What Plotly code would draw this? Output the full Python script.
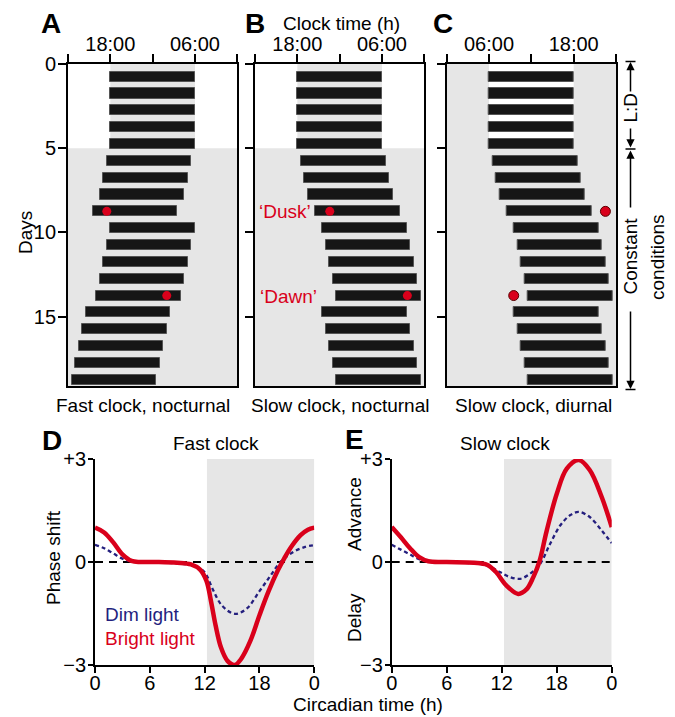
import plotly.graph_objects as go

W, H = 675, 717
FONT = "Liberation Sans, Arial, sans-serif"
RED = "#d9001b"
NAVY = "#241f7e"
GRAY = "#e6e6e6"

# ---------------- data ----------------
days = list(range(19))
duration = 12  # hours of activity per day
onset_A = [18, 18, 18, 18, 18, 17.5, 17, 16.5, 15.5, 18, 17.5, 17, 16.5, 16, 14.5, 14, 13.5, 13, 12.5]
onset_B = [18, 18, 18, 18, 18, 18.5, 19, 19.5, 20.5, 21.5, 22, 22.5, 23, 23.5, 21.5, 22, 22.5, 23, 23.5]
onset_C = [6, 6, 6, 6, 6, 6.5, 7, 7.5, 8.5, 9.5, 10, 10.5, 11, 11.5, 9.5, 10, 10.5, 11, 11.5]
pulse_rows = [8, 13]
pulse_A = [17.5, 26.0]
pulse_B = [22.6, 33.6]
pulse_C = [22.5, 9.5]

clock_ticks_night = [12, 18, 24, 30, 36]
clock_text_night = ["", "18:00", "", "06:00", ""]
clock_ticks_day = [0, 6, 12, 18, 24]
clock_text_day = ["", "06:00", "", "18:00", ""]
day_ticks = [0, 5, 10, 15]

ct_D_bright = [0, 1, 2, 3, 4, 5, 7, 9, 10.5, 11.5, 12.2, 12.7, 13.2, 13.8, 14.5, 15.3, 16, 17, 18, 19, 20, 20.7, 21.5, 22.5, 23.3, 24]
D_bright = [1.0, 0.86, 0.57, 0.22, 0.03, 0.0, 0.0, -0.02, -0.07, -0.22, -0.55, -1.15, -1.85, -2.5, -2.88, -3.0, -2.82, -2.3, -1.55, -0.85, -0.25, 0.1, 0.45, 0.78, 0.94, 1.0]
ct_D_dim = [0, 1, 2, 3, 4, 6, 9, 11, 12, 12.9, 13.9, 15.3, 16.6, 18, 19.2, 20.3, 21.7, 23, 24]
D_dim = [0.5, 0.4, 0.25, 0.1, 0.02, -0.02, -0.04, -0.12, -0.3, -0.8, -1.27, -1.51, -1.36, -0.85, -0.4, 0.0, 0.29, 0.44, 0.49]
ct_E_bright = [0, 1, 2, 3, 4, 6, 9, 10.4, 11.4, 12.5, 13.8, 14.7, 15.45, 16.1, 16.9, 18, 19.1, 20.4, 21.6, 22.9, 24]
E_bright = [1.02, 0.72, 0.4, 0.14, 0.02, 0.0, -0.02, -0.08, -0.3, -0.68, -0.93, -0.8, -0.44, 0.0, 0.9, 1.98, 2.72, 2.97, 2.68, 1.9, 1.02]
ct_E_dim = [0, 1, 2, 3, 4, 6, 9, 10.4, 11.8, 12.9, 14, 15.1, 16.2, 17.3, 18.4, 19.45, 20.4, 21.6, 22.9, 24]
E_dim = [0.5, 0.36, 0.22, 0.08, 0.02, -0.02, -0.04, -0.1, -0.29, -0.44, -0.49, -0.34, -0.05, 0.54, 1.07, 1.36, 1.46, 1.31, 0.92, 0.55]
ct_ticks = [0, 6, 12, 18, 24]
ct_text = ["0", "6", "12", "18", "0"]

DAY_MAX = 19.12
ROW_OFF = 0.75
BAR_H = 0.6


def px(x):
    return x / W


def py(y):
    return 1 - y / H


fig = go.Figure()


def add_actogram(onsets, pulses, n, dot_line):
    xa = "x" if n == 1 else f"x{n}"
    ya = "y" if n == 1 else f"y{n}"
    fig.add_trace(go.Bar(
        orientation="h", y=[d + ROW_OFF for d in days], x=[duration] * len(days),
        base=onsets, width=BAR_H, xaxis=xa, yaxis=ya,
        marker=dict(color="#161616", line=dict(color="#555555", width=1)),
        showlegend=False, hoverinfo="skip"))
    fig.add_trace(go.Scatter(
        x=pulses, y=[r + ROW_OFF for r in pulse_rows], mode="markers", xaxis=xa, yaxis=ya,
        marker=dict(color=RED, size=9 if dot_line == 0 else 10,
                    line=dict(color="#5a0000", width=dot_line)),
        showlegend=False, hoverinfo="skip"))


add_actogram(onset_A, pulse_A, 1, 0)
add_actogram(onset_B, pulse_B, 2, 0)
add_actogram(onset_C, pulse_C, 3, 1)

# dim curves first so the bright curves sit on top
for xs, ys, n, col, wd, dash in [
    (ct_D_dim, D_dim, 4, NAVY, 2.3, "4px,3px"),
    (ct_D_bright, D_bright, 4, RED, 4.5, "solid"),
    (ct_E_dim, E_dim, 5, NAVY, 2.3, "4px,3px"),
    (ct_E_bright, E_bright, 5, RED, 4.5, "solid"),
]:
    fig.add_trace(go.Scatter(x=xs, y=ys, mode="lines", xaxis=f"x{n}", yaxis=f"y{n}",
                             line=dict(color=col, width=wd, dash=dash, shape="spline", smoothing=1.0),
                             showlegend=False, hoverinfo="skip"))

shapes = []
for n in (1, 2):
    xr = "x" if n == 1 else f"x{n}"
    yr = "y" if n == 1 else f"y{n}"
    shapes.append(dict(type="rect", xref=xr, yref=yr, x0=18, x1=30, y0=0, y1=5,
                       fillcolor=GRAY, line=dict(width=0), layer="below"))
    shapes.append(dict(type="rect", xref=xr, yref=yr, x0=12, x1=36, y0=5, y1=DAY_MAX,
                       fillcolor=GRAY, line=dict(width=0), layer="below"))
shapes.append(dict(type="rect", xref="x3", yref="y3", x0=0, x1=24, y0=0, y1=DAY_MAX,
                   fillcolor=GRAY, line=dict(width=0), layer="below"))
shapes.append(dict(type="rect", xref="x3", yref="y3", x0=6, x1=18, y0=0, y1=5,
                   fillcolor="white", line=dict(width=0), layer="below"))
for n in (4, 5):
    shapes.append(dict(type="rect", xref=f"x{n}", yref=f"y{n}", x0=12.25, x1=24, y0=-3, y1=3,
                       fillcolor=GRAY, line=dict(width=0), layer="below"))
    shapes.append(dict(type="line", xref=f"x{n}", yref=f"y{n}", x0=0, x1=24, y0=0, y1=0,
                       line=dict(color="black", width=2, dash="8px,6px"), layer="below"))

# right-side bracket
LX = 630.5
for yy in (61.5, 149, 389.5):
    shapes.append(dict(type="line", xref="paper", yref="paper", x0=px(LX - 5), x1=px(LX + 5),
                       y0=py(yy), y1=py(yy), line=dict(color="black", width=1.5)))

ann = []
for head, tail in [(62, 93), (147.5, 127), (150.5, 209), (389, 310)]:
    ann.append(dict(xref="paper", yref="paper", x=px(LX), y=py(head), ax=0, ay=tail - head,
                    text="", showarrow=True, arrowhead=2, arrowsize=1.1, arrowwidth=1.5,
                    arrowcolor="black", standoff=0, startstandoff=0))


def txt(s, x, y, size=19, color="black", bold=False, angle=0, xanchor="center"):
    ann.append(dict(xref="paper", yref="paper", x=px(x), y=py(y), text=f"<b>{s}</b>" if bold else s,
                    showarrow=False, textangle=angle, xanchor=xanchor, yanchor="middle",
                    font=dict(family=FONT, size=size, color=color)))


txt("L:D", LX, 108, angle=-90)
txt("Constant", LX - 1, 256, angle=-90)
txt("conditions", 657, 257, angle=-90)

for s, x in [("A", 51), ("B", 255), ("C", 443)]:
    txt(s, x, 23, size=28, bold=True)
txt("D", 52, 440, size=28, bold=True)
txt("E", 354, 439, size=28, bold=True)

txt("Clock time (h)", 341, 24)
txt("Fast clock, nocturnal", 143, 405)
txt("Slow clock, nocturnal", 340, 405)
txt("Slow clock, diurnal", 533, 405)
txt("Days", 25, 233, angle=-90)
txt("\u2018Dusk\u2019", 285, 211, color=RED)
txt("\u2018Dawn\u2019", 288, 296, color=RED)

txt("Fast clock", 216, 443)
txt("Slow clock", 505, 443)
txt("Phase shift", 53, 558, angle=-90)
txt("Advance", 354, 514, angle=-90)
txt("Delay", 354, 618, angle=-90)
txt("Dim light", 103, 614, color=NAVY, xanchor="left")
txt("Bright light", 103, 638, color=RED, xanchor="left")
txt("Circadian time (h)", 368, 704)

common_axis = dict(showline=True, linecolor="black", linewidth=1.8, ticks="outside",
                   tickcolor="black", tickwidth=1.5, showgrid=False, zeroline=False,
                   automargin=False,
                   tickfont=dict(family=FONT, size=20, color="black"), fixedrange=True)

layout = dict(width=W, height=H, margin=dict(l=0, r=0, t=0, b=0, autoexpand=False),
              paper_bgcolor="white", plot_bgcolor="white", showlegend=False,
              shapes=shapes, annotations=ann, bargap=0)

act_dom_y = [py(386), py(64)]
act_dom_x = {1: [px(68), px(237.3)], 2: [px(255), px(424.3)], 3: [px(446.7), px(616)]}
for n in (1, 2, 3):
    xk = "xaxis" if n == 1 else f"xaxis{n}"
    yk = "yaxis" if n == 1 else f"yaxis{n}"
    yanchor = "y" if n == 1 else f"y{n}"
    xanchor = "x" if n == 1 else f"x{n}"
    if n == 3:
        xr, tv, tt = [0, 24], clock_ticks_day, clock_text_day
    else:
        xr, tv, tt = [12, 36], clock_ticks_night, clock_text_night
    layout[xk] = dict(common_axis, domain=act_dom_x[n], range=xr, side="top", mirror=True,
                      tickvals=tv, ticktext=tt, ticklen=8, anchor=yanchor, ticklabelstandoff=-5)
    layout[yk] = dict(common_axis, domain=act_dom_y, range=[DAY_MAX, 0], mirror=True,
                      tickvals=day_ticks, ticktext=[str(v) for v in day_ticks] if n == 1 else [""] * 4,
                      ticklen=8, anchor=xanchor, ticklabelstandoff=-2)

prc_dom_y = [py(665), py(459)]
prc_dom_x = {4: [px(95), px(314.3)], 5: [px(391.7), px(611.7)]}
for n in (4, 5):
    layout[f"xaxis{n}"] = dict(common_axis, domain=prc_dom_x[n], range=[0, 24], tickvals=ct_ticks,
                               ticktext=ct_text, ticklen=6, anchor=f"y{n}", ticklabelstandoff=-7)
    layout[f"yaxis{n}"] = dict(common_axis, domain=prc_dom_y, range=[-3, 3], tickvals=[-3, 0, 3],
                               ticktext=["\u22123", "0", "+3"], ticklen=5, anchor=f"x{n}",
                               ticklabelstandoff=-2)

fig.update_layout(**layout)
fig.write_html("out.html", config={"displayModeBar": False},
               post_script="document.body.style.margin='0';document.body.style.overflow='hidden';")
